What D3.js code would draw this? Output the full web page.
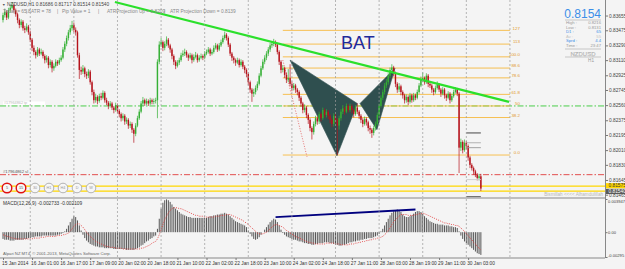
<!DOCTYPE html>
<html><head><meta charset="utf-8">
<script src="https://cdn.jsdelivr.net/npm/d3@7"></script>
<style>
html,body{margin:0;padding:0;background:#f4f4f4;}
svg{display:block;font-family:"Liberation Sans",Arial,sans-serif;}
</style></head><body>
<svg id="c" width="625" height="269"></svg>
<script>
// ---------------- DATA ----------------
const firstOpen = 0.8360;
const closes = [
0.8366,0.8370,0.8363,0.8372,0.8375,0.8378,0.8372,0.8367,0.8360,0.8354,
0.8358,0.8350,0.8348,0.8352,0.8345,0.8336,0.8326,0.8321,0.8317,0.8324,
0.8319,0.8321,0.8316,0.8311,0.8314,0.8305,0.8309,0.8301,0.8304,0.8309,
0.8307,0.8311,0.8314,0.8324,0.8331,0.8338,0.8345,0.8350,0.8354,0.8348,
0.8345,0.8317,0.8299,0.8297,0.8301,0.8294,0.8292,0.8297,0.8284,0.8272,
0.8262,0.8266,0.8261,0.8267,0.8265,0.8271,0.8262,0.8259,0.8255,0.8258,
0.8253,0.8250,0.8256,0.8249,0.8245,0.8240,0.8243,0.8236,0.8238,0.8231,
0.8233,0.8226,0.8221,0.8231,0.8240,0.8248,0.8258,0.8262,0.8258,0.8261,
0.8258,0.8262,0.8260,0.8261,0.8262,0.8309,0.8330,0.8333,0.8326,0.8331,
0.8336,0.8329,0.8324,0.8316,0.8309,0.8304,0.8308,0.8311,0.8317,0.8319,
0.8321,0.8317,0.8314,0.8317,0.8311,0.8315,0.8317,0.8311,0.8314,0.8316,
0.8314,0.8319,0.8321,0.8324,0.8319,0.8321,0.8326,0.8329,0.8324,0.8329,
0.8333,0.8338,0.8342,0.8338,0.8330,0.8319,0.8314,0.8311,0.8308,0.8311,
0.8305,0.8309,0.8303,0.8299,0.8294,0.8284,0.8275,0.8270,0.8272,0.8277,
0.8282,0.8292,0.8301,0.8309,0.8314,0.8319,0.8324,0.8329,0.8331,0.8333,
0.8330,0.8321,0.8309,0.8299,0.8301,0.8293,0.8287,0.8289,0.8282,0.8277,
0.8280,0.8275,0.8272,0.8265,0.8258,0.8250,0.8253,0.8244,0.8238,0.8228,
0.8223,0.8233,0.8240,0.8236,0.8245,0.8240,0.8250,0.8244,0.8248,0.8243,
0.8238,0.8233,0.8243,0.8238,0.8231,0.8240,0.8248,0.8252,0.8248,0.8255,
0.8250,0.8255,0.8250,0.8245,0.8253,0.8248,0.8243,0.8238,0.8233,0.8239,
0.8235,0.8228,0.8226,0.8222,0.8228,0.8233,0.8244,0.8255,0.8265,0.8272,
0.8280,0.8284,0.8292,0.8299,0.8302,0.8295,0.8282,0.8275,0.8279,0.8272,
0.8268,0.8262,0.8266,0.8260,0.8268,0.8262,0.8268,0.8265,0.8272,0.8280,
0.8287,0.8289,0.8284,0.8292,0.8282,0.8280,0.8275,0.8272,0.8277,0.8281,
0.8275,0.8270,0.8275,0.8268,0.8265,0.8270,0.8262,0.8267,0.8272,0.8275,
0.8270,0.8204,0.8211,0.8201,0.8210,0.8206,0.8192,0.8183,0.8179,0.8175,
0.8171,0.8167,0.8169,0.8154];
const highs = [
0.8369,0.8374,0.8372,0.8375,0.8379,0.8382,0.8380,0.8374,0.8369,0.8362,
0.8361,0.8360,0.8353,0.8356,0.8354,0.8347,0.8338,0.8329,0.8323,0.8327,
0.8326,0.8325,0.8323,0.8318,0.8317,0.8316,0.8312,0.8311,0.8307,0.8312,
0.8311,0.8314,0.8317,0.8327,0.8334,0.8341,0.8348,0.8354,0.8359,0.8357,
0.8351,0.8347,0.8320,0.8303,0.8305,0.8303,0.8297,0.8300,0.8299,0.8286,
0.8275,0.8270,0.8268,0.8270,0.8271,0.8274,0.8273,0.8265,0.8261,0.8261,
0.8260,0.8255,0.8259,0.8258,0.8251,0.8247,0.8246,0.8245,0.8241,0.8240,
0.8236,0.8235,0.8228,0.8234,0.8243,0.8251,0.8261,0.8266,0.8264,0.8264,
0.8263,0.8265,0.8264,0.8264,0.8265,0.8312,0.8334,0.8338,0.8335,0.8334,
0.8340,0.8338,0.8331,0.8326,0.8318,0.8311,0.8311,0.8314,0.8320,0.8323,
0.8325,0.8323,0.8319,0.8320,0.8319,0.8318,0.8321,0.8319,0.8317,0.8319,
0.8318,0.8322,0.8324,0.8327,0.8326,0.8324,0.8329,0.8332,0.8331,0.8332,
0.8336,0.8341,0.8346,0.8344,0.8340,0.8332,0.8321,0.8316,0.8313,0.8314,
0.8313,0.8312,0.8311,0.8305,0.8301,0.8296,0.8286,0.8277,0.8276,0.8280,
0.8285,0.8295,0.8304,0.8312,0.8317,0.8322,0.8327,0.8332,0.8334,0.8337,
0.8335,0.8332,0.8323,0.8311,0.8305,0.8303,0.8296,0.8300,0.8306,0.8285,
0.8283,0.8282,0.8277,0.8274,0.8267,0.8260,0.8257,0.8255,0.8246,0.8240,
0.8230,0.8236,0.8243,0.8242,0.8248,0.8247,0.8253,0.8252,0.8251,0.8250,
0.8245,0.8240,0.8246,0.8245,0.8240,0.8243,0.8251,0.8256,0.8254,0.8258,
0.8257,0.8258,0.8257,0.8252,0.8256,0.8258,0.8250,0.8245,0.8240,0.8242,
0.8241,0.8237,0.8231,0.8228,0.8231,0.8236,0.8247,0.8258,0.8268,0.8275,
0.8283,0.8288,0.8295,0.8302,0.8306,0.8304,0.8297,0.8284,0.8283,0.8281,
0.8274,0.8270,0.8269,0.8268,0.8271,0.8270,0.8271,0.8270,0.8275,0.8283,
0.8291,0.8296,0.8291,0.8295,0.8294,0.8285,0.8282,0.8277,0.8280,0.8285,
0.8283,0.8277,0.8278,0.8277,0.8270,0.8273,0.8272,0.8270,0.8275,0.8278,
0.8277,0.8272,0.8215,0.8213,0.8214,0.8212,0.8208,0.8194,0.8185,0.8181,
0.8177,0.8173,0.8172,0.8172];
const lows = [
0.8357,0.8363,0.8360,0.8361,0.8369,0.8373,0.8369,0.8364,0.8356,0.8350,
0.8351,0.8347,0.8344,0.8346,0.8342,0.8333,0.8322,0.8317,0.8313,0.8315,
0.8316,0.8317,0.8313,0.8307,0.8308,0.8301,0.8302,0.8296,0.8298,0.8302,
0.8304,0.8305,0.8309,0.8312,0.8321,0.8328,0.8335,0.8342,0.8347,0.8345,
0.8341,0.8314,0.8288,0.8293,0.8294,0.8290,0.8288,0.8289,0.8281,0.8268,
0.8258,0.8259,0.8257,0.8259,0.8262,0.8263,0.8259,0.8256,0.8251,0.8253,
0.8250,0.8246,0.8248,0.8246,0.8241,0.8236,0.8237,0.8232,0.8233,0.8227,
0.8228,0.8222,0.8210,0.8218,0.8229,0.8238,0.8246,0.8255,0.8255,0.8256,
0.8255,0.8256,0.8257,0.8257,0.8258,0.8240,0.8306,0.8327,0.8322,0.8323,
0.8328,0.8326,0.8320,0.8312,0.8305,0.8300,0.8302,0.8305,0.8309,0.8315,
0.8316,0.8314,0.8310,0.8312,0.8307,0.8309,0.8313,0.8308,0.8309,0.8312,
0.8311,0.8312,0.8317,0.8319,0.8316,0.8317,0.8319,0.8324,0.8321,0.8322,
0.8327,0.8331,0.8336,0.8335,0.8327,0.8316,0.8310,0.8307,0.8304,0.8306,
0.8302,0.8303,0.8300,0.8295,0.8290,0.8280,0.8271,0.8260,0.8266,0.8269,
0.8274,0.8280,0.8290,0.8299,0.8306,0.8311,0.8316,0.8321,0.8326,0.8328,
0.8327,0.8318,0.8305,0.8295,0.8296,0.8289,0.8283,0.8284,0.8279,0.8273,
0.8274,0.8271,0.8268,0.8261,0.8254,0.8246,0.8247,0.8240,0.8233,0.8224,
0.8214,0.8220,0.8230,0.8232,0.8233,0.8236,0.8238,0.8241,0.8241,0.8239,
0.8234,0.8229,0.8230,0.8234,0.8195,0.8226,0.8237,0.8245,0.8244,0.8246,
0.8247,0.8248,0.8246,0.8241,0.8243,0.8245,0.8239,0.8234,0.8229,0.8231,
0.8231,0.8224,0.8221,0.8216,0.8219,0.8225,0.8231,0.8242,0.8253,0.8262,
0.8269,0.8277,0.8281,0.8289,0.8296,0.8291,0.8278,0.8271,0.8272,0.8268,
0.8264,0.8258,0.8259,0.8256,0.8258,0.8259,0.8260,0.8262,0.8263,0.8270,
0.8278,0.8284,0.8281,0.8282,0.8278,0.8277,0.8271,0.8268,0.8270,0.8275,
0.8272,0.8266,0.8268,0.8264,0.8261,0.8263,0.8258,0.8260,0.8265,0.8270,
0.8267,0.8173,0.8200,0.8197,0.8199,0.8202,0.8188,0.8179,0.8176,0.8171,
0.8168,0.8164,0.8164,0.8151];
const macdMain = [
-0.0008,-0.0009,-0.0009,-0.0009,-0.0010,-0.0010,-0.0010,-0.0009,-0.0009,-0.0009,
-0.0009,-0.0009,-0.0008,-0.0008,-0.0007,-0.0007,-0.0006,-0.0006,-0.0005,-0.0005,
-0.0005,-0.0005,-0.0004,-0.0004,-0.0004,-0.0004,-0.0004,-0.0004,-0.0004,-0.0004,
-0.0003,-0.0003,-0.0002,-0.0001,0.0001,0.0004,0.0008,0.0012,0.0016,0.0019,
0.0018,0.0014,0.0008,0.0002,-0.0003,-0.0007,-0.0010,-0.0012,-0.0014,-0.0015,
-0.0016,-0.0017,-0.0017,-0.0018,-0.0018,-0.0018,-0.0019,-0.0019,-0.0019,-0.0019,
-0.0019,-0.0020,-0.0020,-0.0020,-0.0020,-0.0020,-0.0020,-0.0020,-0.0021,-0.0021,
-0.0021,-0.0021,-0.0021,-0.0020,-0.0019,-0.0018,-0.0016,-0.0015,-0.0013,-0.0011,
-0.0010,-0.0008,-0.0007,-0.0005,-0.0004,0.0004,0.0016,0.0028,0.0035,0.0038,
0.0039,0.0038,0.0036,0.0033,0.0030,0.0028,0.0026,0.0024,0.0022,0.0021,
0.0020,0.0019,0.0018,0.0018,0.0017,0.0017,0.0017,0.0017,0.0017,0.0017,
0.0017,0.0017,0.0017,0.0018,0.0019,0.0019,0.0020,0.0020,0.0021,0.0021,
0.0022,0.0022,0.0023,0.0022,0.0021,0.0019,0.0017,0.0015,0.0013,0.0012,
0.0011,0.0010,0.0009,0.0008,0.0006,0.0002,-0.0002,-0.0005,-0.0008,-0.0009,
-0.0008,-0.0006,-0.0003,0.0000,0.0003,0.0006,0.0009,0.0012,0.0014,0.0016,
0.0015,0.0012,0.0008,0.0003,-0.0001,-0.0003,-0.0005,-0.0006,-0.0007,-0.0008,
-0.0009,-0.0009,-0.0010,-0.0011,-0.0011,-0.0012,-0.0013,-0.0013,-0.0014,-0.0014,
-0.0015,-0.0015,-0.0014,-0.0014,-0.0013,-0.0013,-0.0013,-0.0012,-0.0012,-0.0012,
-0.0013,-0.0013,-0.0014,-0.0015,-0.0015,-0.0016,-0.0016,-0.0015,-0.0015,-0.0014,
-0.0013,-0.0012,-0.0012,-0.0011,-0.0011,-0.0010,-0.0010,-0.0009,-0.0009,-0.0008,
-0.0008,-0.0007,-0.0007,-0.0007,-0.0006,-0.0005,-0.0004,-0.0002,0.0001,0.0004,
0.0008,0.0012,0.0016,0.0020,0.0023,0.0025,0.0026,0.0027,0.0026,0.0024,
0.0021,0.0019,0.0018,0.0018,0.0019,0.0020,0.0022,0.0024,0.0025,0.0025,
0.0024,0.0022,0.0019,0.0017,0.0015,0.0013,0.0012,0.0011,0.0010,0.0010,
0.0009,0.0009,0.0009,0.0008,0.0008,0.0008,0.0007,0.0007,0.0006,0.0006,
0.0005,0.0001,-0.0004,-0.0008,-0.0011,-0.0013,-0.0015,-0.0017,-0.0019,-0.0021,
-0.0023,-0.0025,-0.0026,-0.0027];
const macdSignal = [
-0.0003,-0.0004,-0.0005,-0.0005,-0.0006,-0.0007,-0.0007,-0.0008,-0.0008,-0.0008,
-0.0008,-0.0008,-0.0008,-0.0008,-0.0008,-0.0008,-0.0008,-0.0007,-0.0007,-0.0007,
-0.0007,-0.0006,-0.0006,-0.0006,-0.0005,-0.0005,-0.0005,-0.0005,-0.0005,-0.0005,
-0.0004,-0.0004,-0.0004,-0.0003,-0.0003,-0.0002,-0.0001,0.0001,0.0004,0.0007,
0.0009,0.0010,0.0010,0.0008,0.0006,0.0003,0.0000,-0.0003,-0.0005,-0.0007,
-0.0009,-0.0011,-0.0012,-0.0013,-0.0014,-0.0015,-0.0016,-0.0017,-0.0017,-0.0018,
-0.0018,-0.0018,-0.0019,-0.0019,-0.0019,-0.0019,-0.0020,-0.0020,-0.0020,-0.0020,
-0.0020,-0.0020,-0.0020,-0.0020,-0.0020,-0.0020,-0.0019,-0.0019,-0.0018,-0.0017,
-0.0016,-0.0015,-0.0013,-0.0012,-0.0011,-0.0008,-0.0003,0.0003,0.0009,0.0015,
0.0019,0.0023,0.0026,0.0028,0.0029,0.0029,0.0029,0.0028,0.0028,0.0027,
0.0026,0.0025,0.0024,0.0023,0.0022,0.0021,0.0020,0.0020,0.0019,0.0019,
0.0019,0.0018,0.0018,0.0018,0.0018,0.0018,0.0018,0.0019,0.0019,0.0019,
0.0020,0.0020,0.0020,0.0021,0.0021,0.0021,0.0020,0.0019,0.0018,0.0017,
0.0016,0.0015,0.0014,0.0012,0.0011,0.0009,0.0007,0.0005,0.0003,0.0001,
-0.0001,-0.0002,-0.0002,-0.0002,-0.0001,0.0000,0.0002,0.0004,0.0006,0.0008,
0.0009,0.0009,0.0008,0.0007,0.0006,0.0004,0.0002,0.0001,-0.0001,-0.0002,
-0.0004,-0.0005,-0.0006,-0.0007,-0.0008,-0.0009,-0.0010,-0.0011,-0.0012,-0.0012,
-0.0013,-0.0013,-0.0014,-0.0014,-0.0014,-0.0014,-0.0014,-0.0014,-0.0013,-0.0013,
-0.0013,-0.0013,-0.0013,-0.0014,-0.0014,-0.0014,-0.0015,-0.0015,-0.0015,-0.0015,
-0.0015,-0.0014,-0.0014,-0.0014,-0.0013,-0.0013,-0.0012,-0.0012,-0.0011,-0.0011,
-0.0010,-0.0010,-0.0009,-0.0009,-0.0008,-0.0008,-0.0007,-0.0007,-0.0006,-0.0005,
-0.0003,-0.0001,0.0002,0.0005,0.0009,0.0012,0.0015,0.0017,0.0019,0.0021,
0.0021,0.0021,0.0021,0.0020,0.0020,0.0020,0.0020,0.0021,0.0021,0.0022,
0.0022,0.0022,0.0022,0.0021,0.0020,0.0019,0.0018,0.0017,0.0016,0.0015,
0.0014,0.0013,0.0012,0.0011,0.0011,0.0010,0.0010,0.0009,0.0009,0.0008,
0.0008,0.0007,0.0005,0.0003,0.0001,-0.0002,-0.0004,-0.0007,-0.0009,-0.0012,
-0.0014,-0.0017,-0.0019,-0.0021];
const timeLabels = ["15 Jan 2014","16 Jan 01:00","16 Jan 17:00","17 Jan 09:00","20 Jan 02:00","20 Jan 18:00","21 Jan 10:00","22 Jan 02:00","22 Jan 18:00","23 Jan 10:00","24 Jan 02:00","24 Jan 18:00","27 Jan 11:00","28 Jan 03:00","28 Jan 19:00","29 Jan 11:00","30 Jan 03:00"];
const timeLabelBars = [0,16,32,48,64,80,96,112,128,144,160,176,192,208,224,240,256];
const gridBars = [15,39,63,87,111,135,159,183,207,231,255,279];
const priceTicks = [0.83655,0.83475,0.83290,0.83110,0.82925,0.82745,0.82560,0.82375,0.82195,0.82010,0.81830,0.81645,0.81465];
const macdTicks = [0.003947,0,-0.00295];
const macdTickLabels = ["0.003947","0.00","-0.00295"];
const fibLevels = [0,38.2,50,61.8,78.6,88.6,100,113,127];
const fibLabels = ["0.0","38.2","50","61.8","78.6","88.6","100.0","113","127"];
const fibPrice0 = 0.8195, fibPrice100 = 0.8315, fibStartBar = 154, fibEndBar = 279;
const trendline = [{bar:61.6, price:0.8382},{bar:278.5, price:0.8260}];
const batXAB = [{bar:158, price:0.8311},{bar:183.8, price:0.8194},{bar:195, price:0.8258}];
const batBCD = [{bar:196.5, price:0.8258},{bar:215.7, price:0.8301},{bar:205.8, price:0.8226}];
const redDotted = [{bar:154, price:0.8311},{bar:167.3, price:0.8193}];
const tpPrice = 0.8255, slPrice = 0.8171;
const yellowPrices = [0.8157, 0.8151];
const orderMarks = [{price:0.8222,c:"#333"},{price:0.8210,c:"#aaa"},{price:0.8204,c:"#999"},{price:0.8165,c:"#ccc"},{price:0.8144,c:"#333"}];
const macdTrend = [{bar:150, v:0.0018},{bar:227, v:0.0027}];
const timeframes = ["5","15","30","H1","H4","D","W"];
const activeTf = ["5","15"];

// ---------------- DRAW ----------------
const svg = d3.select("#c");
const N = closes.length;
const opens = closes.map((c,i)=> i===0 ? firstOpen : closes[i-1]);
const x = d3.scaleLinear().domain([0, N-1]).range([3, 3 + (N-1)*1.817]);
const y = d3.scaleLinear().domain([0.81437, 0.83845]).range([197, 0]);
const ym = d3.scaleLinear().domain([-0.00295, 0.003947]).range([257, 199]);
const R = 605;
const FS = 4.8;

svg.append("rect").attr("width",625).attr("height",269).attr("fill","#f4f4f4");
const defs = svg.append("defs");
defs.append("clipPath").attr("id","cm").append("rect").attr("x",0).attr("y",0).attr("width",R).attr("height",197.5);
defs.append("clipPath").attr("id","cd").append("rect").attr("x",0).attr("y",198.5).attr("width",R).attr("height",59);

const gm = svg.append("g").attr("clip-path","url(#cm)");
const gd = svg.append("g").attr("clip-path","url(#cd)");

// grid
gridBars.forEach(b=>{
  [[0,197],[199,257]].forEach(([a,bb])=>{
    svg.append("line").attr("x1",x(b)).attr("x2",x(b)).attr("y1",a).attr("y2",bb)
      .attr("stroke","#999").attr("stroke-width",0.7).attr("stroke-dasharray","2,2");
  });
});

// tp / sl lines
[[tpPrice,"#36c836"],[slPrice,"#e03c3c"]].forEach(([p,c])=>{
  gm.append("line").attr("x1",0).attr("x2",R).attr("y1",y(p)).attr("y2",y(p))
    .attr("stroke",c).attr("stroke-width",0.9).attr("stroke-dasharray","6,2,1.5,2");
});
// yellow lines
yellowPrices.forEach(p=>{
  gm.append("line").attr("x1",0).attr("x2",R).attr("y1",y(p)).attr("y2",y(p))
    .attr("stroke","#ffd700").attr("stroke-width",1.2);
});

// fib levels
const fibPrice = l => fibPrice0 + (fibPrice100-fibPrice0)*l/100;
fibLevels.forEach((l,i)=>{
  gm.append("line").attr("x1",x(fibStartBar)).attr("x2",x(fibEndBar))
    .attr("y1",y(fibPrice(l))).attr("y2",y(fibPrice(l)))
    .attr("stroke","#f6b93e").attr("stroke-width",0.9);
  gm.append("text").attr("x",x(fibEndBar)+10).attr("y",y(fibPrice(l))-0.8)
    .attr("text-anchor","end").attr("font-size",4.4).attr("fill","#e39a2a").text(fibLabels[i]);
});

// bat triangles
const pt = d => [x(d.bar), y(d.price)];
[batXAB, batBCD].forEach(tri=>{
  gm.append("path").attr("d", d3.line()(tri.map(pt)) + "Z")
    .attr("fill","#2f4f4f").attr("stroke","#2f4f4f").attr("stroke-width",0.6);
});
// red dotted
gm.append("path").attr("d", d3.line()(redDotted.map(pt)))
  .attr("stroke","#e05050").attr("stroke-width",0.8).attr("stroke-dasharray","1,1.6").attr("fill","none");

// candles
const bull = "#35b035", bear = "#b5121b";
const cg = gm.append("g");
closes.forEach((c,i)=>{
  const o = opens[i], col = c >= o ? bull : bear;
  cg.append("line").attr("x1",x(i)).attr("x2",x(i)).attr("y1",y(highs[i])).attr("y2",y(lows[i]))
    .attr("stroke",col).attr("stroke-width",0.7);
  const top = y(Math.max(o,c)), bot = y(Math.min(o,c));
  cg.append("rect").attr("x",x(i)-0.7).attr("width",1.4).attr("y",top).attr("height",Math.max(0.8,bot-top)).attr("fill",col);
});

// trendline
gm.append("path").attr("d", d3.line()(trendline.map(pt)))
  .attr("stroke","#2be02b").attr("stroke-width",2.2).attr("fill","none");

// BAT label
gm.append("text").attr("x",x(186)).attr("y",y(0.8325)).attr("font-size",18).attr("fill","#1f2a9a").text("BAT");

// order marks
orderMarks.forEach(m=>{
  gm.append("line").attr("x1",x(255)).attr("x2",x(263)).attr("y1",y(m.price)).attr("y2",y(m.price))
    .attr("stroke",m.c).attr("stroke-width",0.9);
});

// left labels
gm.append("rect").attr("x",3).attr("y",y(tpPrice)-4.5).attr("width",42).attr("height",3.5).attr("fill","#fff");
gm.append("text").attr("x",4).attr("y",y(tpPrice)-1.8).attr("font-size",3.8).attr("fill","#bbb").text("#17964862 tp");
gm.append("text").attr("x",3).attr("y",y(slPrice)-1.5).attr("font-size",4.2).attr("fill","#555").text("#17964862 sl");

// timeframe circles
timeframes.forEach((t,i)=>{
  const cx = 7 + i*14, cy = 188, act = activeTf.includes(t);
  svg.append("circle").attr("cx",cx).attr("cy",cy).attr("r",4.8).attr("fill","#f7f7f7")
    .attr("stroke", act ? "#e01010" : "#aaa").attr("stroke-width", act ? 1.4 : 0.9);
  svg.append("text").attr("x",cx).attr("y",cy+1.4).attr("text-anchor","middle").attr("font-size",3.8)
    .attr("fill", act ? "#555" : "#999").text(t);
});

// bismillah
svg.append("text").attr("x",603).attr("y",196).attr("text-anchor","end").attr("font-size",4.6).attr("fill","#b8b8b8").text("Bismillah <<<< Alhamdulillah");

// header
svg.append("text").attr("x",2).attr("y",6.3).attr("font-size",3.6).attr("fill","#555").text("▼");
svg.append("text").attr("x",7).attr("y",6.3).attr("font-size",FS).attr("fill","#444").text("NZDUSD,H1  0.81686 0.81717 0.81514 0.81540");
const hdr = [["Today = 65.8",3],["|",26],["ATR = 78",31],["|",57],["Pip Value = 1",62],["|",98],["ATRProjection Up = 0.8209",107],["|",164],["ATR Projection Down = 0.8139",170]];
hdr.forEach(([t,xx])=> svg.append("text").attr("x",xx).attr("y",12.8).attr("font-size",FS).attr("fill","#888").text(t));

// info panel
svg.append("text").attr("x",601).attr("y",18).attr("text-anchor","end").attr("font-size",12).attr("fill","#3b8ee8").text("0.8154");
[20,49,57].forEach(yy=> svg.append("line").attr("x1",565).attr("x2",601).attr("y1",yy).attr("y2",yy).attr("stroke","#aaa").attr("stroke-width",0.6));
const info = [["High :","0.8216","#999",24],["Low :","0.8131","#999",28.5],["D1 :","65","#3b8ee8",33],["Av :","55","#c4c4c4",37.5],["Sprd :","4.4","#3b8ee8",42],["Time :","23:47","#999",46.5]];
info.forEach(([a,b,c,yy])=>{
  svg.append("text").attr("x",566).attr("y",yy).attr("font-size",4.2).attr("fill",c).text(a);
  svg.append("text").attr("x",601).attr("y",yy).attr("text-anchor","end").attr("font-size",4.2).attr("fill",c).text(b);
});
svg.append("text").attr("x",583).attr("y",55.6).attr("text-anchor","middle").attr("font-size",6).attr("fill","#d8d8d8").attr("stroke","#aaa").attr("stroke-width",0.25).text("NZDUSD");
svg.append("text").attr("x",591).attr("y",62).attr("text-anchor","middle").attr("font-size",4.6).attr("fill","#999").text("H1");

// MACD panel
const mg = gd.append("g");
macdMain.forEach((v,i)=>{
  mg.append("line").attr("x1",x(i)).attr("x2",x(i)).attr("y1",ym(0)).attr("y2",ym(v))
    .attr("stroke","#444").attr("stroke-width",0.9);
});
gd.append("path").attr("d", d3.line().x((d,i)=>x(i)).y(d=>ym(d))(macdSignal))
  .attr("fill","none").attr("stroke","#e23a3a").attr("stroke-width",0.9).attr("stroke-dasharray","1,1.3");
gd.append("path").attr("d", d3.line().x(d=>x(d.bar)).y(d=>ym(d.v))(macdTrend))
  .attr("fill","none").attr("stroke","#00007f").attr("stroke-width",1.8);
svg.append("text").attr("x",3).attr("y",205).attr("font-size",FS).attr("fill","#333").text("MACD(12,26,9) -0.002733 -0.002109");
svg.append("text").attr("x",3).attr("y",255).attr("font-size",4.2).attr("fill","#666").text("Alpari NZ MT4, © 2001-2013, MetaQuotes Software Corp.");

// frame
svg.append("line").attr("x1",R+0.5).attr("x2",R+0.5).attr("y1",0).attr("y2",258).attr("stroke","#888").attr("stroke-width",1);
svg.append("line").attr("x1",0).attr("x2",R).attr("y1",198).attr("y2",198).attr("stroke","#888").attr("stroke-width",1);
svg.append("line").attr("x1",0).attr("x2",R).attr("y1",258).attr("y2",258).attr("stroke","#888").attr("stroke-width",1);

// right price axis
const ay = svg.append("g").attr("transform",`translate(${R+0.5},0)`)
  .call(d3.axisRight(y).tickValues(priceTicks).tickFormat(d3.format(".5f")).tickSize(2.5).tickPadding(1));
ay.select(".domain").remove();
ay.selectAll("line").attr("stroke","#777");
ay.selectAll("text").attr("font-size",FS).attr("fill","#444").attr("font-family","Liberation Sans, Arial, sans-serif");

// price boxes
[[yellowPrices[0]+0.00005,"#ffd700","#333","0.81575"],[0.81505,"#5a5a5a","#fff","0.81540"]].forEach(([p,bg,fg,t])=>{
  svg.append("rect").attr("x",R+1).attr("y",y(p)-2.6).attr("width",19).attr("height",5.2).attr("fill",bg);
  svg.append("text").attr("x",R+3.5).attr("y",y(p)+1.7).attr("font-size",FS).attr("fill",fg).text(t);
});

// MACD axis
const am = svg.append("g").attr("transform",`translate(${R+0.5},0)`)
  .call(d3.axisRight(ym).tickValues(macdTicks).tickFormat((d,i)=>macdTickLabels[i]).tickSize(2).tickPadding(0.5));
am.select(".domain").remove();
am.selectAll("line").attr("stroke","#777");
am.selectAll("text").attr("font-size",4.1).attr("fill","#444").attr("font-family","Liberation Sans, Arial, sans-serif");
am.selectAll(".tick").filter((d,i)=>i===0).select("text").attr("dy","0.9em");
am.selectAll(".tick").filter((d,i)=>i===2).select("text").attr("dy","-0.1em");

// time axis
const ax = svg.append("g").attr("transform","translate(0,258)")
  .call(d3.axisBottom(x).tickValues(timeLabelBars).tickFormat((d,i)=>timeLabels[i]).tickSize(2).tickPadding(1.5));
ax.select(".domain").remove();
ax.selectAll("line").attr("stroke","#777");
ax.selectAll("text").attr("font-size",FS).attr("fill","#333").attr("text-anchor","start").attr("dx","-1.5")
  .attr("font-family","Liberation Sans, Arial, sans-serif");
</script>
</body></html>
